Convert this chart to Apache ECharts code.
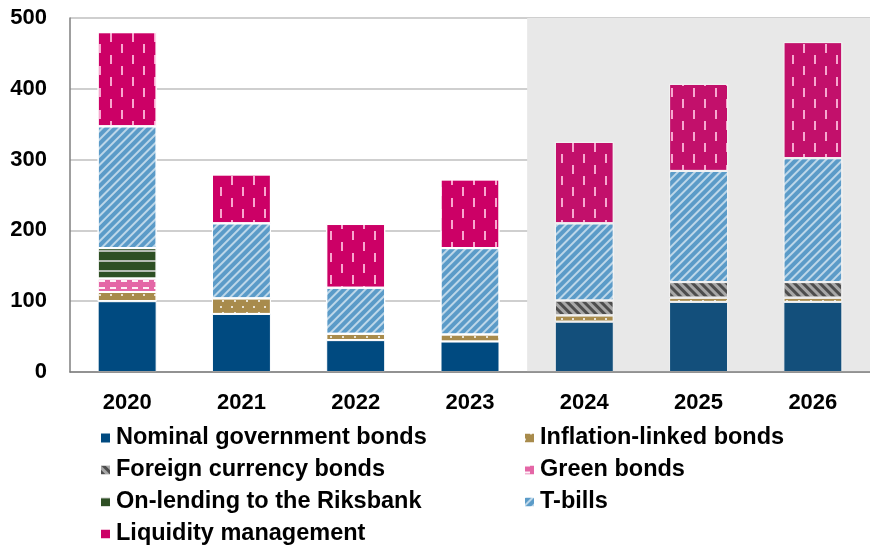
<!DOCTYPE html>
<html>
<head>
<meta charset="utf-8">
<script src="https://cdn.jsdelivr.net/npm/echarts@6/dist/echarts.min.js"></script>
<style>
  html, body { margin: 0; padding: 0; background: #fff; }
  #chart { width: 870px; height: 546px; }
</style>
</head>
<body>
<div id="chart"></div>
<script>
// Central government borrowing by instrument, SEK billion
const years = ['2020', '2021', '2022', '2023', '2024', '2025', '2026'];
const nominal = [100, 82, 45, 43, 71, 99, 99];
const inflationLinked = [13, 22, 9, 10, 9, 6, 6];
const foreignCurrency = [0, 0, 0, 0, 21, 22, 22];
const green = [19, 0, 0, 0, 0, 0, 0];
const onLending = [43, 0, 0, 0, 0, 0, 0];
const tBills = [172, 106, 65, 122, 109, 157, 175];
const liquidity = [133, 69, 90, 97, 115, 123, 164];
const yTicks = [0, 100, 200, 300, 400, 500];
const forecastFrom = 4; // index of first forecast year

const FONT = '"Liberation Sans", Arial, sans-serif';
const chart = echarts.init(document.getElementById('chart'), null, { renderer: 'canvas' });

function barSeries(name, values, color, forecastColor, decal) {
  const itemStyle = { color: color, borderColor: '#ffffff', borderWidth: 1 };
  if (decal) itemStyle.decal = decal;
  return {
    name: name,
    type: 'bar',
    stack: 'total',
    barWidth: 59,
    z: 2,
    itemStyle: itemStyle,
    data: values.map((v, i) => {
      if (!v) return '-';
      if (i >= forecastFrom && forecastColor) {
        return { value: v, itemStyle: { color: forecastColor, borderColor: '#f2f2f2' } };
      }
      return i >= forecastFrom ? { value: v, itemStyle: { borderColor: '#f2f2f2' } } : v;
    })
  };
}

const series = [
  // forecast period background
  {
    name: 'forecast',
    type: 'line',
    xAxisIndex: 1,
    data: [],
    z: 0,
    silent: true,
    markArea: {
      silent: true,
      itemStyle: { color: '#e8e8e8' },
      data: [[{ xAxis: forecastFrom }, { xAxis: years.length }]]
    }
  },
  barSeries('Nominal government bonds', nominal, '#004a80', '#134f7b', null),
  barSeries('Inflation-linked bonds', inflationLinked, '#a88b4c', null, {
    symbol: 'rect',
    color: 'rgba(255,255,255,0.75)',
    dashArrayX: [[2, 9], [0, 5.5, 2, 3.5]],
    dashArrayY: [2, 4]
  }),
  barSeries('Foreign currency bonds', foreignCurrency, '#4d4d4d', null, {
    symbol: 'rect',
    color: 'rgba(190,190,190,0.8)',
    dashArrayX: [1, 0],
    dashArrayY: [2.5, 3],
    rotation: Math.PI / 4
  }),
  barSeries('Green bonds', green, '#e466a6', null, {
    symbol: 'rect',
    color: 'rgba(255,255,255,0.9)',
    dashArrayX: [6, 5],
    dashArrayY: [2, 5]
  }),
  barSeries('On-lending to the Riksbank', onLending, '#2e4f24', null, {
    symbol: 'rect',
    color: 'rgba(215,215,215,0.8)',
    dashArrayX: [1, 0],
    dashArrayY: [2, 8]
  }),
  barSeries('T-bills', tBills, '#5b9bc8', null, {
    symbol: 'rect',
    color: 'rgba(255,255,255,0.6)',
    dashArrayX: [1, 0],
    dashArrayY: [1.5, 3.5],
    rotation: -Math.PI / 4
  }),
  barSeries('Liquidity management', liquidity, '#cc0066', '#c2106b', {
    symbol: 'rect',
    color: 'rgba(255,195,225,0.85)',
    dashArrayX: [[2, 20], [0, 11, 2, 9]],
    dashArrayY: [9, 2]
  })
];

const legendText = { fontFamily: FONT, fontWeight: 'bold', fontSize: 23.5, color: '#000' };
const legendBase = {
  orient: 'vertical',
  top: 426,
  height: 140,
  padding: 0,
  itemWidth: 11,
  itemHeight: 11,
  itemGap: 8,
  textStyle: legendText,
  icon: 'rect',
  selectedMode: false
};

chart.setOption({
  animation: false,
  backgroundColor: '#ffffff',
  grid: { left: 70, top: 18, width: 806, height: 354, containLabel: false },
  legend: [
    Object.assign({}, legendBase, {
      left: 99,
      data: ['Nominal government bonds', 'Foreign currency bonds', 'On-lending to the Riksbank', 'Liquidity management']
    }),
    Object.assign({}, legendBase, {
      left: 523,
      data: ['Inflation-linked bonds', 'Green bonds', 'T-bills']
    })
  ],
  xAxis: [
    {
      type: 'category',
      data: years,
      z: 3,
      axisLine: { lineStyle: { color: '#7f7f7f', width: 1.5 } },
      axisTick: { show: false },
      axisLabel: { fontFamily: FONT, fontWeight: 'bold', fontSize: 22, color: '#000', margin: 20 }
    },
    {
      type: 'value',
      min: 0,
      max: years.length,
      show: false
    }
  ],
  yAxis: {
    type: 'value',
    min: yTicks[0],
    max: yTicks[yTicks.length - 1],
    interval: yTicks[1] - yTicks[0],
    z: 1,
    axisLine: { show: true, lineStyle: { color: '#7f7f7f', width: 1.5 } },
    axisTick: { show: false },
    splitLine: { lineStyle: { color: '#bfbfbf', width: 1.5 } },
    axisLabel: { fontFamily: FONT, fontWeight: 'bold', fontSize: 22, color: '#000', margin: 23 }
  },
  series: series
});
</script>
</body>
</html>
